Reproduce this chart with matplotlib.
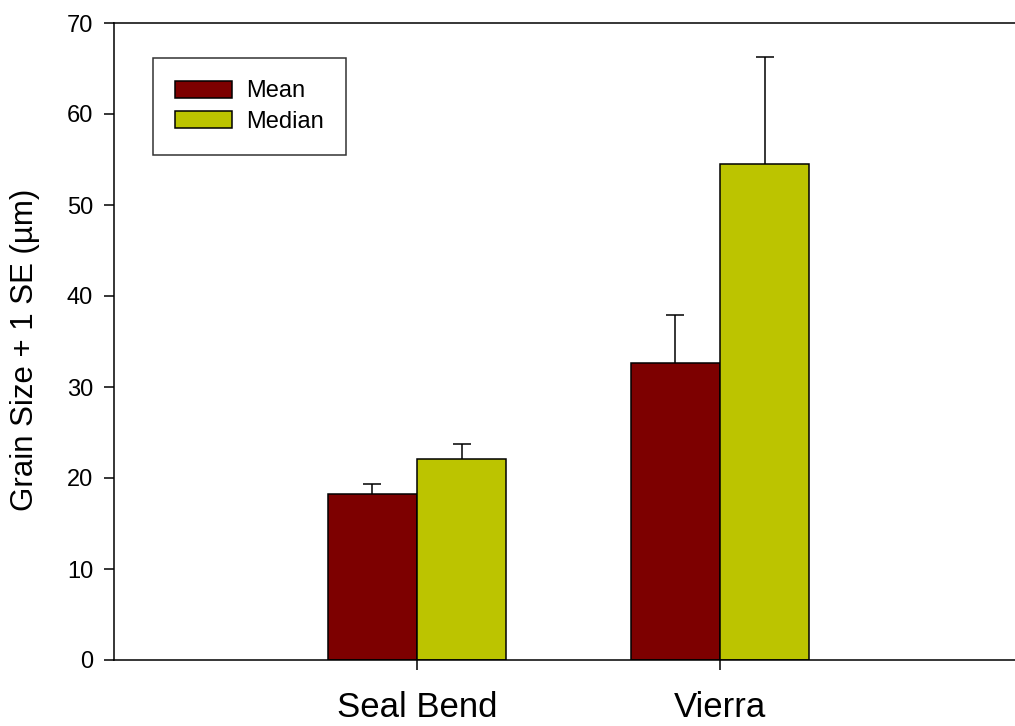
import matplotlib.pyplot as plt
import numpy as np

plt.rcParams['font.family'] = ['Liberation Sans', 'DejaVu Sans']

sites = ['Seal Bend', 'Vierra']
mean_size = [18.2, 32.6]
mean_se = [1.1, 5.3]
median_size = [22.1, 54.5]
median_se = [1.6, 11.8]

mean_color = '#7d0000'
median_color = '#bcc400'

fig = plt.figure(figsize=(10.15, 7.26), dpi=100)
ax = fig.add_axes([114 / 1015, 66 / 726, 901 / 1015, 637 / 726])

x = np.arange(len(sites))
width = 0.295
err_kw = dict(ecolor='black', elinewidth=1.1, capsize=6.8, capthick=1.1)

for offset, vals, se, color, label in [(-width / 2, mean_size, mean_se, mean_color, 'Mean'),
                                       (width / 2, median_size, median_se, median_color, 'Median')]:
    b = ax.bar(x + offset, vals, width, color=color, edgecolor='black',
               linewidth=1.1, label=label,
               yerr=[np.zeros(len(sites)), se], error_kw=err_kw)
    # only the upper whisker gets a cap
    b.errorbar.lines[1][0].set_visible(False)

ax.set_xlim(-1.0, 1.974)
ax.set_ylim(0, 70)
ax.set_yticks(range(0, 71, 10))
ax.set_xticks(x)
ax.set_xticklabels(sites, fontsize=25)
ax.tick_params(axis='y', labelsize=17, length=7, width=1.1, pad=8, direction='out')
ax.tick_params(axis='x', length=7, width=1.1, pad=15, direction='out')

for side in ['left', 'bottom', 'top']:
    ax.spines[side].set_linewidth(1.1)
ax.spines['right'].set_visible(False)

ax.set_ylabel('Grain Size + 1 SE (µm)', fontsize=22.5)
ax.yaxis.set_label_coords(-0.082, 0.487)

leg = ax.legend(loc='upper left', bbox_to_anchor=(0.043, 0.945), borderaxespad=0,
                fontsize=17, frameon=True, fancybox=False, edgecolor='black',
                handlelength=2.4, handleheight=0.75, handletextpad=0.6,
                borderpad=0.95, labelspacing=0.35)
leg.get_frame().set_linewidth(1.1)
for patch in leg.get_patches():
    patch.set_edgecolor('black')

fig.savefig('out.png', dpi=100)
